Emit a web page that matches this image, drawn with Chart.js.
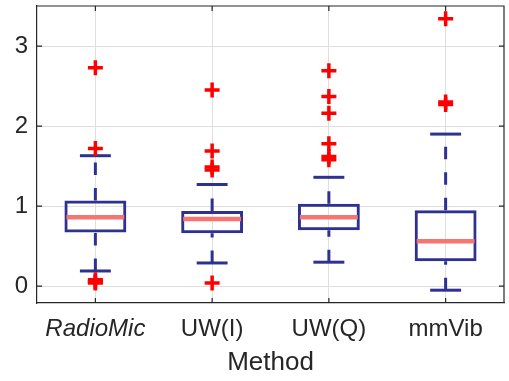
<!DOCTYPE html>
<html>
<head>
<meta charset="utf-8">
<script src="https://cdn.jsdelivr.net/npm/chart.js@4.4.0/dist/chart.umd.min.js"></script>
<style>
  html, body { margin: 0; padding: 0; background: #fff; }
  #wrap { width: 509px; height: 381px; }
</style>
</head>
<body>
<div id="wrap"><canvas id="chart"></canvas></div>
<script>
// box plot summary per method
const methods = ["RadioMic", "UW(I)", "UW(Q)", "mmVib"];
const q1 = [0.67, 0.66, 0.70, 0.31];
const median = [0.86, 0.84, 0.86, 0.56];
const q3 = [1.07, 0.94, 1.03, 0.95];
const whiskerLow = [0.19, 0.29, 0.30, -0.05];
const whiskerHigh = [1.63, 1.27, 1.36, 1.90];
const outliers = [
    [2.73, 1.72, 0.08, 0.06, 0.05, 0.04],
    [2.45, 1.69, 1.49, 1.45, 0.04],
    [2.69, 2.37, 2.16, 1.78, 1.62, 1.58],
    [3.34, 2.30, 2.27]
];
const yTicks = [0, 1, 2, 3];

const navy = "#2E3192";
const salmon = "#F6766F";
const textColor = "#262626";
const gridColor = "#DFDFDF";
const fontFamily = "'Liberation Sans', Arial, sans-serif";

const outlierPoints = [];
outliers.forEach((list, i) => {
    list.forEach(v => outlierPoints.push({ x: methods[i], y: v }));
});

// whiskers, caps and medians, drawn right after the boxes
const boxParts = {
    id: "boxParts",
    afterDatasetDraw(chart, args) {
        if (args.index !== 1) return;
        const ctx = chart.ctx;
        const y = chart.scales.y;
        const seg = (x1, y1, x2, y2) => {
            ctx.beginPath();
            ctx.moveTo(x1, y1);
            ctx.lineTo(x2, y2);
            ctx.stroke();
        };
        ctx.save();
        ctx.lineCap = "butt";
        args.meta.data.forEach((bar, i) => {
            const cx = bar.x;
            const half = bar.width / 2;
            const yLo = y.getPixelForValue(whiskerLow[i]);
            const yHi = y.getPixelForValue(whiskerHigh[i]);
            ctx.strokeStyle = navy;
            ctx.lineWidth = 3;
            ctx.setLineDash([12.5, 13]);
            seg(cx, yLo, cx, y.getPixelForValue(q1[i]));
            seg(cx, y.getPixelForValue(q3[i]), cx, yHi);
            ctx.setLineDash([]);
            seg(cx - half / 2, yLo, cx + half / 2, yLo);
            seg(cx - half / 2, yHi, cx + half / 2, yHi);
            ctx.strokeStyle = salmon;
            ctx.lineWidth = 4.5;
            const ym = y.getPixelForValue(median[i]);
            seg(cx - half + 2, ym, cx + half - 2, ym);
        });
        ctx.restore();
    },
    afterDraw(chart) {
        const ctx = chart.ctx;
        const a = chart.chartArea;
        const x = chart.scales.x;
        const y = chart.scales.y;
        ctx.save();
        ctx.strokeStyle = textColor;
        ctx.lineWidth = 1.2;
        ctx.beginPath();
        ctx.moveTo(a.left, a.top);
        ctx.lineTo(a.right, a.top);
        ctx.lineTo(a.right, a.bottom);
        // inward ticks
        methods.forEach((m, i) => {
            const px = x.getPixelForValue(i);
            ctx.moveTo(px, a.bottom);
            ctx.lineTo(px, a.bottom - 5);
            ctx.moveTo(px, a.top);
            ctx.lineTo(px, a.top + 5);
        });
        yTicks.forEach(v => {
            const py = y.getPixelForValue(v);
            ctx.moveTo(a.left, py);
            ctx.lineTo(a.left + 5, py);
            ctx.moveTo(a.right, py);
            ctx.lineTo(a.right - 5, py);
        });
        ctx.stroke();
        ctx.restore();
    }
};

Chart.defaults.font.family = fontFamily;
Chart.defaults.color = textColor;

new Chart(document.getElementById("chart"), {
    type: "bar",
    data: {
        labels: methods,
        datasets: [
            {
                type: "scatter",
                label: "Outliers",
                data: outlierPoints,
                pointStyle: "cross",
                pointRadius: 7.5,
                pointBorderWidth: 3.5,
                borderColor: "#FF0000",
                backgroundColor: "#FF0000"
            },
            {
                label: "Box",
                data: methods.map((m, i) => [q1[i], q3[i]]),
                backgroundColor: "rgba(0,0,0,0)",
                borderColor: navy,
                borderWidth: 3,
                borderSkipped: false,
                categoryPercentage: 1,
                barPercentage: 0.53
            }
        ]
    },
    options: {
        responsive: true,
        maintainAspectRatio: false,
        animation: false,
        layout: { autoPadding: false, padding: { top: 6, right: 5, left: 0, bottom: 0 } },
        plugins: {
            legend: { display: false },
            tooltip: { enabled: false }
        },
        scales: {
            x: {
                type: "category",
                grid: { color: gridColor, lineWidth: 1, offset: false, drawTicks: false },
                border: { color: textColor, width: 1.2 },
                ticks: {
                    padding: 12,
                    color: textColor,
                    font: (ctx) => ({
                        size: 24,
                        family: fontFamily,
                        style: ctx.index === 0 ? "italic" : "normal"
                    })
                },
                title: {
                    display: true,
                    text: "Method",
                    color: textColor,
                    font: { size: 26, family: fontFamily },
                    padding: { top: 0, bottom: 3 }
                },
                afterFit: (scale) => {
                    scale.height = 78;
                    scale.paddingLeft = 0;
                    scale.paddingRight = 0;
                }
            },
            y: {
                min: -0.21,
                max: 3.5,
                grid: { color: gridColor, lineWidth: 1, drawTicks: false },
                border: { color: textColor, width: 1.2 },
                ticks: {
                    padding: 9,
                    color: textColor,
                    font: { size: 24, family: fontFamily }
                },
                afterBuildTicks: (scale) => { scale.ticks = yTicks.map(v => ({ value: v })); },
                afterFit: (scale) => {
                    scale.width = 37;
                    scale.paddingTop = 0;
                    scale.paddingBottom = 0;
                }
            }
        }
    },
    plugins: [boxParts]
});
</script>
</body>
</html>
